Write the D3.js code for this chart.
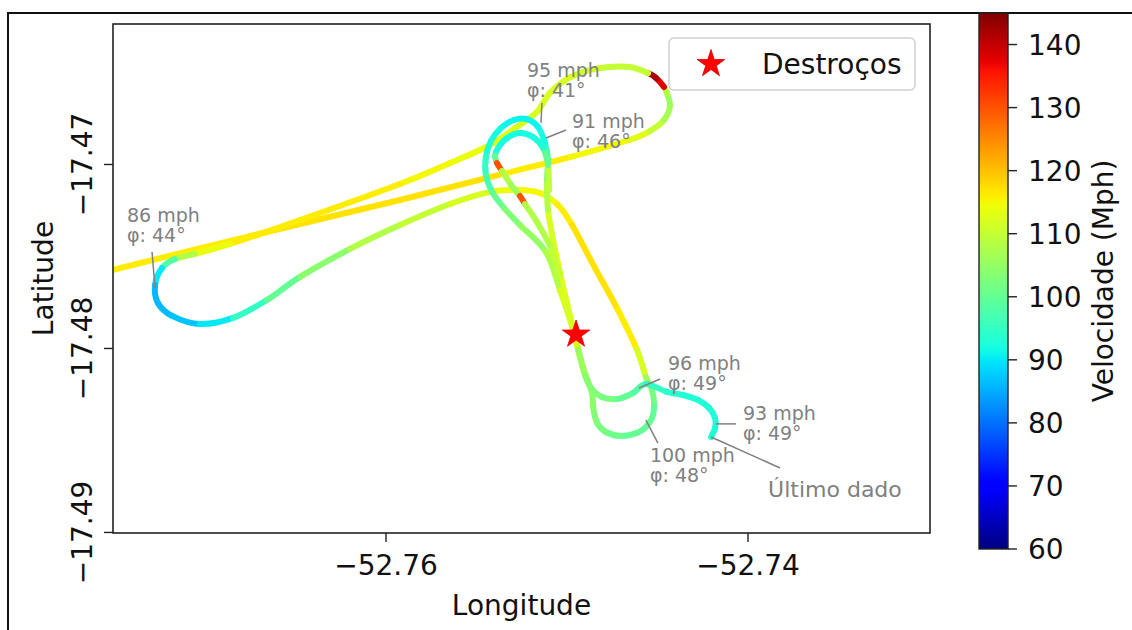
<!DOCTYPE html>
<html><head><meta charset="utf-8">
<script src="https://cdn.jsdelivr.net/npm/d3@7"></script>
<style>body{margin:0;background:#fff} svg{display:block} text{font-family:"DejaVu Sans",sans-serif}</style>
</head><body><svg id="c" width="1132" height="630"></svg>
<script>
// ---- data ----
// main flight track
const trackLon = [-52.77580,-52.76751,-52.75923,-52.75331,-52.74978,-52.74657,-52.74541,-52.74464,-52.74431,-52.74448,
 -52.74464,-52.74508,-52.74552,-52.74657,-52.74818,-52.74978,-52.75094,-52.75171,-52.75287,-52.75425,
 -52.75646,-52.75923,-52.76475,-52.76862,-52.77055,-52.77166,-52.77238,-52.77276,-52.77260,-52.77182,
 -52.77028,-52.76845,-52.76657,-52.76475,-52.76199,-52.75923,-52.75646,-52.75425,-52.75271,-52.75149,
 -52.75050,-52.74972,-52.74845,-52.74718,-52.74613,-52.74564,-52.74530,-52.74519,-52.74530,-52.74569,
 -52.74613,-52.74702,-52.74785,-52.74834,-52.74856,-52.74862,-52.74912,-52.74956,-52.75011,-52.75066,
 -52.75105,-52.75110,-52.75105,-52.75122,-52.75160,-52.75221,-52.75293,-52.75365,-52.75420,-52.75448,
 -52.75448,-52.75414,-52.75348,-52.75260,-52.75116,-52.75039,-52.74983,-52.74939,-52.74901,-52.74867,
 -52.74807,-52.74718,-52.74635,-52.74564,-52.74448,-52.74359,-52.74276,-52.74215,-52.74182,-52.74182,
 -52.74204];
const trackLat = [-17.47590,-17.47389,-17.47193,-17.47046,-17.46959,-17.46867,-17.46818,-17.46758,-17.46682,-17.46611,
 -17.46579,-17.46530,-17.46503,-17.46470,-17.46476,-17.46524,-17.46611,-17.46720,-17.46802,-17.46894,
 -17.46992,-17.47106,-17.47302,-17.47432,-17.47486,-17.47514,-17.47563,-17.47655,-17.47753,-17.47823,
 -17.47867,-17.47834,-17.47736,-17.47611,-17.47459,-17.47329,-17.47215,-17.47149,-17.47139,-17.47155,
 -17.47220,-17.47329,-17.47563,-17.47791,-17.48008,-17.48155,-17.48226,-17.48307,-17.48378,-17.48432,
 -17.48459,-17.48476,-17.48454,-17.48405,-17.48318,-17.48242,-17.48101,-17.47927,-17.47709,-17.47465,
 -17.47247,-17.47084,-17.46976,-17.46883,-17.46796,-17.46753,-17.46758,-17.46802,-17.46872,-17.46959,
 -17.47057,-17.47149,-17.47236,-17.47329,-17.47476,-17.47682,-17.47845,-17.48008,-17.48144,-17.48215,
 -17.48264,-17.48274,-17.48242,-17.48193,-17.48236,-17.48253,-17.48280,-17.48323,-17.48378,-17.48432,
 -17.48481];
const trackSpeed = [116,117,117,116,115,113,110,107,106,108,
 138,142,110,110,111,112,112,112,113,114,
 115,116,116,114,108,98,90,86,86,87,
 90,95,100,104,108,110,112,114,115,115,
 116,117,117,116,112,106,102,100,100,100,
 100,101,102,103,104,105,106,112,113,112,
 108,102,96,92,91,91,91,92,93,95,
 97,100,103,105,108,112,112,106,104,103,
 102,100,98,95,94,93,93,93,93,93,
 93];
// second (inner) turn at the top of the pattern
const loopLon = [-52.75099,-52.75105,-52.75133,-52.75188,-52.75260,-52.75331,-52.75381,-52.75398,-52.75387,-52.75359,
 -52.75309,-52.75260,-52.75232,-52.75166,-52.75083,-52.75039];
const loopLat = [-17.47139,-17.47003,-17.46910,-17.46851,-17.46829,-17.46856,-17.46910,-17.46954,-17.46992,-17.47035,
 -17.47111,-17.47171,-17.47215,-17.47313,-17.47465,-17.47601];
const loopSpeed = [110,100,93,92,92,92,93,100,130,108,106,130,108,108,110,112];

const wreckLon = [-52.74950];
const wreckLat = [-17.47924];
const legendLabel = "Destroços";

const annoText = [["86 mph","φ: 44°"],["95 mph","φ: 41°"],["91 mph","φ: 46°"],["96 mph","φ: 49°"],["93 mph","φ: 49°"],["100 mph","φ: 48°"],["Último dado"]];
const annoLon = [-52.77276,-52.75144,-52.75116,-52.74602,-52.74177,-52.74564,-52.74204];
const annoLat = [-17.47671,-17.46774,-17.46856,-17.48215,-17.48410,-17.48389,-17.48481];

const xLimits = [-52.775083, -52.729945];
const yLimits = [-17.49003, -17.462364];
const xTicks = [-52.76, -52.74];
const yTicks = [-17.47, -17.48, -17.49];
const cbarLimits = [60, 145];
const cbarTicks = [60,70,80,90,100,110,120,130,140];
const xLabel = "Longitude", yLabel = "Latitude", cbarLabel = "Velocidade (Mph)";

// ---- layout ----
const svg = d3.select("#c");
const L = 113, R = 930, T = 24, B = 533;
const x = d3.scaleLinear().domain(xLimits).range([L, R]);
const y = d3.scaleLinear().domain(yLimits).range([B, T]);
const FS = 28;

// jet colormap (matplotlib segment data)
function interpSeg(seg, t){
  for (let i = 1; i < seg.length; i++){
    if (t <= seg[i][0]){ const a = seg[i-1], b = seg[i]; return a[1] + (b[1]-a[1])*(t-a[0])/(b[0]-a[0]); }
  }
  return seg[seg.length-1][1];
}
const jR = [[0,0],[0.35,0],[0.66,1],[0.89,1],[1,0.5]];
const jG = [[0,0],[0.125,0],[0.375,1],[0.64,1],[0.91,0],[1,0]];
const jB = [[0,0.5],[0.11,1],[0.34,1],[0.65,0],[1,0]];
function jet(t){ t = Math.max(0, Math.min(1, t));
  return d3.rgb(255*interpSeg(jR,t), 255*interpSeg(jG,t), 255*interpSeg(jB,t)).formatHex(); }
const cnorm = d3.scaleLinear().domain(cbarLimits).range([0,1]);
const colorOf = v => jet(cnorm(v));

// outer frame
svg.append("path").attr("d","M8,630V13H1132").attr("fill","none").attr("stroke","#111").attr("stroke-width",2);

// clip
svg.append("clipPath").attr("id","clip").append("rect").attr("x",L).attr("y",T).attr("width",R-L).attr("height",B-T);

// track pieces, each segment coloured by its speed, Catmull-Rom smoothing
const gT = svg.append("g").attr("clip-path","url(#clip)");
function drawTrack(lons, lats, speeds){
  const pts = lons.map((d,i)=>[x(d), y(lats[i])]);
  for (let i = 0; i < pts.length-1; i++){
    const p0 = pts[Math.max(0,i-1)], p1 = pts[i], p2 = pts[i+1], p3 = pts[Math.min(pts.length-1,i+2)];
    const c1 = [p1[0]+(p2[0]-p0[0])/6, p1[1]+(p2[1]-p0[1])/6];
    const c2 = [p2[0]-(p3[0]-p1[0])/6, p2[1]-(p3[1]-p1[1])/6];
    gT.append("path")
      .attr("d",`M${p1}C${c1} ${c2} ${p2}`)
      .attr("fill","none").attr("stroke", colorOf(speeds[i]))
      .attr("stroke-width",6).attr("stroke-linecap","round");
  }
}
drawTrack(trackLon, trackLat, trackSpeed);
drawTrack(loopLon, loopLat, loopSpeed);

// annotations
const textOff = [[-28,-66],[-14,-46],[26,-10],[29,-18],[27,-4],[4,42],[57,60]];
const leadEnd = [[-3,-36],[1,-20],[20,-8],[21,-9],[20,0],[12,23],[69,31]];
const annoSize = [19,19,19,19,19,19,22];
const gA = svg.append("g");
annoText.forEach((lines,i)=>{
  const ax = x(annoLon[i]), ay = y(annoLat[i]);
  gA.append("line").attr("x1",ax).attr("y1",ay).attr("x2",ax+leadEnd[i][0]).attr("y2",ay+leadEnd[i][1])
    .attr("stroke","#808080").attr("stroke-width",1.5);
  lines.forEach((s,j)=>{
    gA.append("text").attr("x",ax+textOff[i][0]).attr("y",ay+textOff[i][1]+j*20)
      .attr("fill","#808080").attr("font-size",annoSize[i]).text(s);
  });
});

// star (wreckage)
const star = d3.symbol().type(d3.symbolStar).size(236);
svg.append("g").attr("clip-path","url(#clip)").selectAll("path.w").data(wreckLon).join("path")
  .attr("transform",(d,i)=>`translate(${x(d)},${y(wreckLat[i])})`).attr("d",star())
  .attr("fill","#ff0000").attr("stroke","#e00000").attr("stroke-width",0.8);

// axes frame
svg.append("rect").attr("x",L).attr("y",T).attr("width",R-L).attr("height",B-T)
  .attr("fill","none").attr("stroke","#222").attr("stroke-width",1.6);

// ticks
const fmt = d3.format(".2f");
const gx = svg.append("g");
xTicks.forEach(v=>{
  gx.append("line").attr("x1",x(v)).attr("x2",x(v)).attr("y1",B).attr("y2",B+9).attr("stroke","#222").attr("stroke-width",1.4);
  gx.append("text").attr("x",x(v)).attr("y",575).attr("text-anchor","middle").attr("font-size",FS).attr("fill","#111").text(fmt(v));
});
yTicks.forEach(v=>{
  gx.append("line").attr("x1",L-9).attr("x2",L).attr("y1",y(v)).attr("y2",y(v)).attr("stroke","#222").attr("stroke-width",1.4);
  gx.append("text").attr("transform",`translate(92,${y(v)}) rotate(-90)`).attr("text-anchor","middle").attr("font-size",FS).attr("fill","#111").text(fmt(v));
});
svg.append("text").attr("x",(L+R)/2).attr("y",615).attr("text-anchor","middle").attr("font-size",FS).attr("fill","#111").text(xLabel);
svg.append("text").attr("transform",`translate(53,${(T+B)/2}) rotate(-90)`).attr("text-anchor","middle").attr("font-size",FS).attr("fill","#111").text(yLabel);

// legend
const gL = svg.append("g");
gL.append("rect").attr("x",669).attr("y",38).attr("width",246).attr("height",52).attr("rx",5)
  .attr("fill","#fff").attr("fill-opacity",0.8).attr("stroke","#d0d0d0").attr("stroke-width",1.5);
gL.append("path").attr("transform","translate(711,64)").attr("d",star()).attr("fill","#ff0000").attr("stroke","#e00000").attr("stroke-width",0.8);
gL.append("text").attr("x",762).attr("y",74).attr("font-size",FS).attr("fill","#111").text(legendLabel);

// colorbar
const CL = 979, CR = 1008, CT = 13, CB = 549;
const cy = d3.scaleLinear().domain(cbarLimits).range([CB, CT]);
const grad = svg.append("defs").append("linearGradient").attr("id","jetg").attr("x1",0).attr("y1",1).attr("x2",0).attr("y2",0);
d3.range(0,1.0001,0.01).forEach(t=>grad.append("stop").attr("offset",t).attr("stop-color",jet(t)));
svg.append("rect").attr("x",CL).attr("y",CT).attr("width",CR-CL).attr("height",CB-CT).attr("fill","url(#jetg)")
  .attr("stroke","#222").attr("stroke-width",1.4);
cbarTicks.forEach(v=>{
  svg.append("line").attr("x1",CR).attr("x2",CR+9).attr("y1",cy(v)).attr("y2",cy(v)).attr("stroke","#222").attr("stroke-width",1.4);
  svg.append("text").attr("x",1028).attr("y",cy(v)).attr("dy","0.36em").attr("font-size",FS).attr("fill","#111").text(v);
});
svg.append("text").attr("transform",`translate(1113,${(CT+CB)/2}) rotate(-90)`).attr("text-anchor","middle")
  .attr("font-size",FS).attr("fill","#111").text(cbarLabel);
</script></body></html>
